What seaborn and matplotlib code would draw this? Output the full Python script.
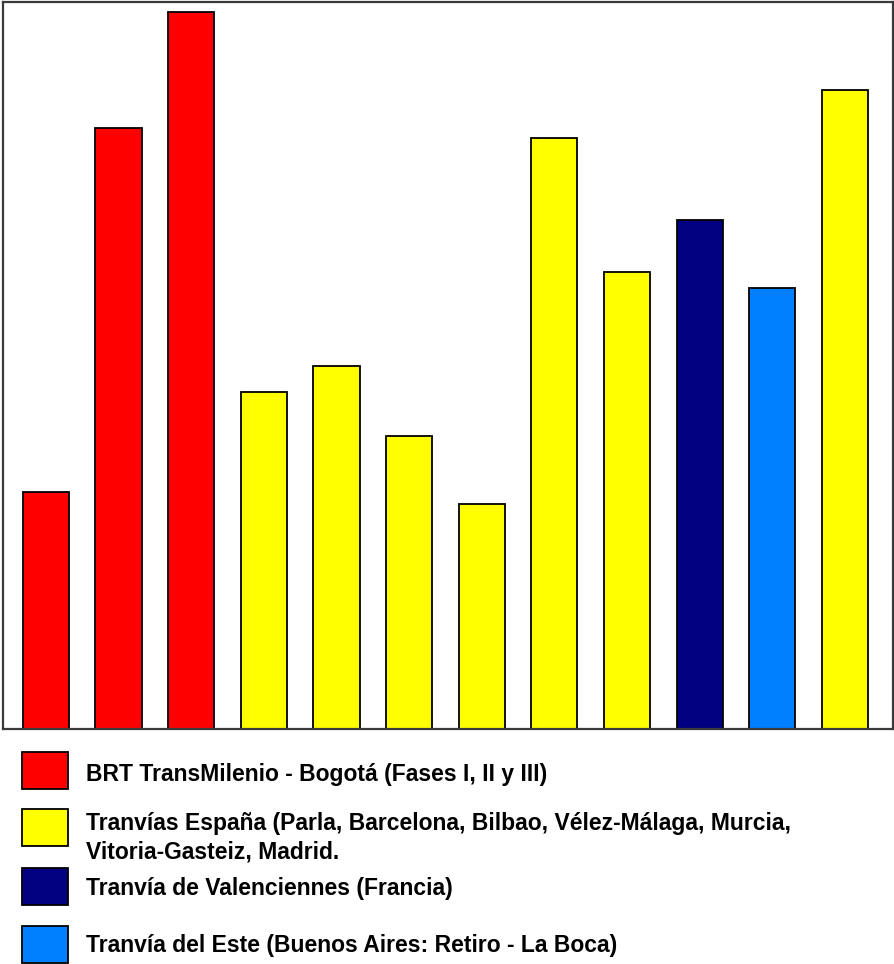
import matplotlib
matplotlib.use("Agg")
import matplotlib.pyplot as plt
from matplotlib.patches import Rectangle
import pandas as pd
import seaborn as sns

# Systems shown as bars, in drawing order
systems = ["Fase I", "Fase II", "Fase III", "Parla", "Barcelona", "Bilbao",
           "Vélez-Málaga", "Murcia", "Vitoria-Gasteiz", "Valenciennes",
           "Buenos Aires", "Madrid"]
groups = ["BRT", "BRT", "BRT", "ES", "ES", "ES",
          "ES", "ES", "ES", "FR", "AR", "ES"]
values = [237, 601, 717, 337, 363, 293, 225, 591, 457, 509, 441, 639]

group_keys = ["BRT", "ES", "FR", "AR"]
group_labels = [
    "BRT TransMilenio - Bogotá (Fases I, II y III)",
    "Tranvías España (Parla, Barcelona, Bilbao, Vélez-Málaga, Murcia,\nVitoria-Gasteiz, Madrid.",
    "Tranvía de Valenciennes (Francia)",
    "Tranvía del Este (Buenos Aires: Retiro - La Boca)",
]
group_colors = ["#FF0000", "#FFFF00", "#000080", "#0080FF"]

df = pd.DataFrame({"sistema": systems, "valor": values, "grupo": groups})
palette = dict(zip(group_keys, group_colors))

sns.set_theme(style="white")
plt.rcParams["font.family"] = ["Liberation Sans", "DejaVu Sans"]

W, H = 895, 964
fig = plt.figure(figsize=(W / 100, H / 100), dpi=100)
fig.patch.set_facecolor("white")

# plot area framed by a dark box
ax = fig.add_axes([3 / W, 1 - 729 / H, 890 / W, 727 / H])
sns.barplot(data=df, x="sistema", y="valor", hue="grupo", palette=palette,
            hue_order=group_keys, dodge=False, width=0.634, saturation=1,
            edgecolor="black", linewidth=1.3, legend=False, ax=ax)
ax.set_xlim(-0.59, 11.66)
ax.set_ylim(0, 727)
ax.set_xticks([])
ax.set_yticks([])
ax.set_xlabel("")
ax.set_ylabel("")
for sp in ax.spines.values():
    sp.set_visible(True)
    sp.set_color("#3a3a3a")
    sp.set_linewidth(1.6)

# legend drawn below the plot area
box_tops = [752, 809, 868, 926]
baselines = [781, 830, 895, 952]
for top, base, lab, col in zip(box_tops, baselines, group_labels, group_colors):
    fig.add_artist(Rectangle((22 / W, 1 - (top + 37) / H), 46 / W, 37 / H,
                             transform=fig.transFigure, facecolor=col,
                             edgecolor="black", linewidth=1.3))
    for i, ln in enumerate(lab.split("\n")):
        fig.text(86 / W, 1 - (base + 28 * i) / H, ln, fontsize=16.5,
                 fontweight="bold", color="black", ha="left", va="baseline")

fig.savefig("out.png", dpi=100, facecolor="white")
